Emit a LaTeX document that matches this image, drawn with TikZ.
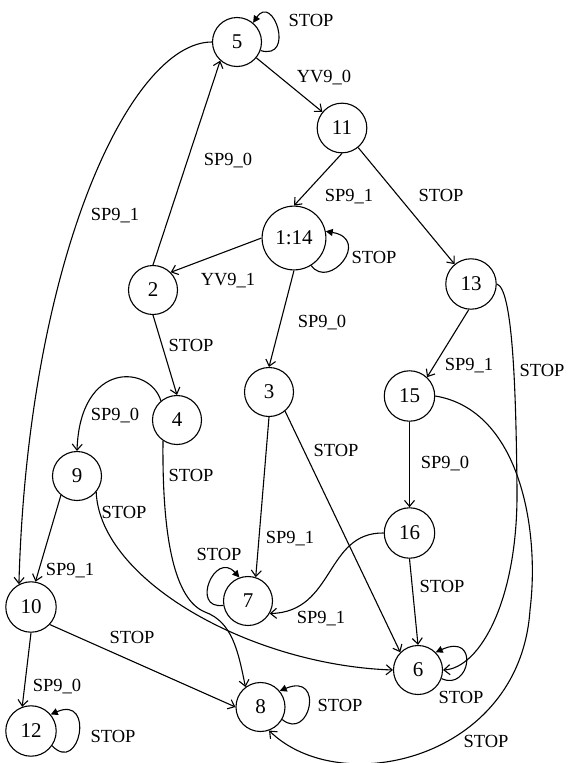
\documentclass[tikz,border=0pt]{standalone}
\usepackage{fontspec}
\setmainfont{Liberation Serif}
\usetikzlibrary{arrows.meta}
\begin{document}
\begin{tikzpicture}[x=1pt,y=-1pt,
  st/.style={circle,draw,line width=1.1pt,minimum size=49pt,inner sep=9pt,font=\fontsize{21}{23}\selectfont},
  lb/.style={inner sep=0pt,text height=12.6pt,text depth=0pt,font=\fontsize{18.5}{20}\selectfont},
  ed/.style={line width=1.1pt,-{Straight Barb[length=6pt,width=10pt]}},
  lp/.style={line width=1.1pt,-{Triangle[length=7pt,width=7pt]}}]
\useasboundingbox (0,0) rectangle (573,763);
% states
\node[st] (n5) at (237,42) {5};
\node[st] (n11) at (342,128) {11};
\node[st] (n1) at (294,238) {1:14};
\node[st] (n2) at (153,290) {2};
\node[st] (n13) at (471,284) {13};
\node[st] (n3) at (269,392) {3};
\node[st] (n4) at (177,420) {4};
\node[st] (n15) at (409.5,396) {15};
\node[st] (n9) at (77,476) {9};
\node[st] (n16) at (409.5,533) {16};
\node[st] (n10) at (31,607) {10};
\node[st] (n7) at (248,601) {7};
\node[st] (n6) at (418,670) {6};
\node[st] (n8) at (260.5,707) {8};
\node[st] (n12) at (31,731) {12};
% straight transitions
\draw[ed] (n5) -- (n11);
\draw[ed] (n2.north) -- (n5.-132);
\draw[ed] (n11.south) -- (n1.north);
\draw[ed] (n11) -- (n13);
\draw[ed] (n1.west) -- (n2.45);
\draw[ed] (n1.south) -- (n3.north);
\draw[ed] (n2.south) -- (n4.north);
\draw[ed] (n13.-95) -- (n15.47);
\draw[ed] (n15.south) -- (n16.north);
\draw[ed] (n3.south) -- (n7.72);
\draw[ed] (n3.-50) -- (n6.135);
\draw[ed] (n16.south) -- (n6.north);
\draw[ed] (n9.-130) -- (n10.80);
\draw[ed] (n10.south) -- (n12.110);
\draw[ed] (n10.-43) -- (n8.west);
% curved transitions
\draw[ed] (n5.west) .. controls (130,42) and (28,260) .. (n10.118);
\draw[ed] (n4.130) .. controls (150,365) and (80,360) .. (n9.north);
\draw[ed] (n4.236) .. controls (162,540) and (175,600) .. (205,612) .. controls (232,622) and (238,650) .. (n8.127);
\draw[ed] (n9.-40) .. controls (100,580) and (250,665) .. (n6.west);
\draw[ed] (n16.west) .. controls (325,532) and (335,612) .. (n7.-30);
\draw[ed] (n13.east) .. controls (512,288) and (516,380) .. (517,490) .. controls (518,600) and (480,668) .. (n6.east);
\draw[ed] (n15.east) .. controls (520,410) and (540,530) .. (530,610) .. controls (520,760) and (340,800) .. (n8.-70);
% self loops
\draw[lp] (n5.-20) .. controls +(35,10) and +(20,-30) .. (n5.50);
\draw[lp] (n1.-58) .. controls +(18,25) and +(46,8) .. (n1.12);
\draw[lp] (n7.190) .. controls (190,610) and (215,550) .. (n7.110);
\draw[lp] (n12.-35) .. controls (80,775) and (95,695) .. (n12.40);
\draw[lp] (n8.-30) .. controls (310,742) and (325,672) .. (n8.40);
\draw[lp] (n6.-20) .. controls (470,692) and (480,632) .. (n6.45);
% labels
\node[lb] (l1) at (311,20) {STOP};
\node[lb] (l2) at (324,76) {YV9\_0};
\node[lb] (l3) at (228,159) {SP9\_0};
\node[lb] (l4) at (115,214) {SP9\_1};
\node[lb] (l5) at (349,195) {SP9\_1};
\node[lb] (l6) at (441,195) {STOP};
\node[lb] (l7) at (374,257) {STOP};
\node[lb] (l8) at (228,279) {YV9\_1};
\node[lb] (l9) at (322,321) {SP9\_0};
\node[lb] (l10) at (191,345) {STOP};
\node[lb] (l11) at (469,364) {SP9\_1};
\node[lb] (l12) at (542,370) {STOP};
\node[lb] (l13) at (115,414) {SP9\_0};
\node[lb] (l14) at (191,475) {STOP};
\node[lb] (l15) at (336,450) {STOP};
\node[lb] (l16) at (445,462) {SP9\_0};
\node[lb] (l17) at (124,512) {STOP};
\node[lb] (l18) at (70,569) {SP9\_1};
\node[lb] (l19) at (219,554) {STOP};
\node[lb] (l20) at (290,537) {SP9\_1};
\node[lb] (l21) at (132,637) {STOP};
\node[lb] (l22) at (57,685) {SP9\_0};
\node[lb] (l23) at (113,736) {STOP};
\node[lb] (l24) at (321,617) {SP9\_1};
\node[lb] (l25) at (442,586) {STOP};
\node[lb] (l26) at (461,697) {STOP};
\node[lb] (l27) at (340,705) {STOP};
\node[lb] (l28) at (486,741) {STOP};
\end{tikzpicture}
\end{document}
